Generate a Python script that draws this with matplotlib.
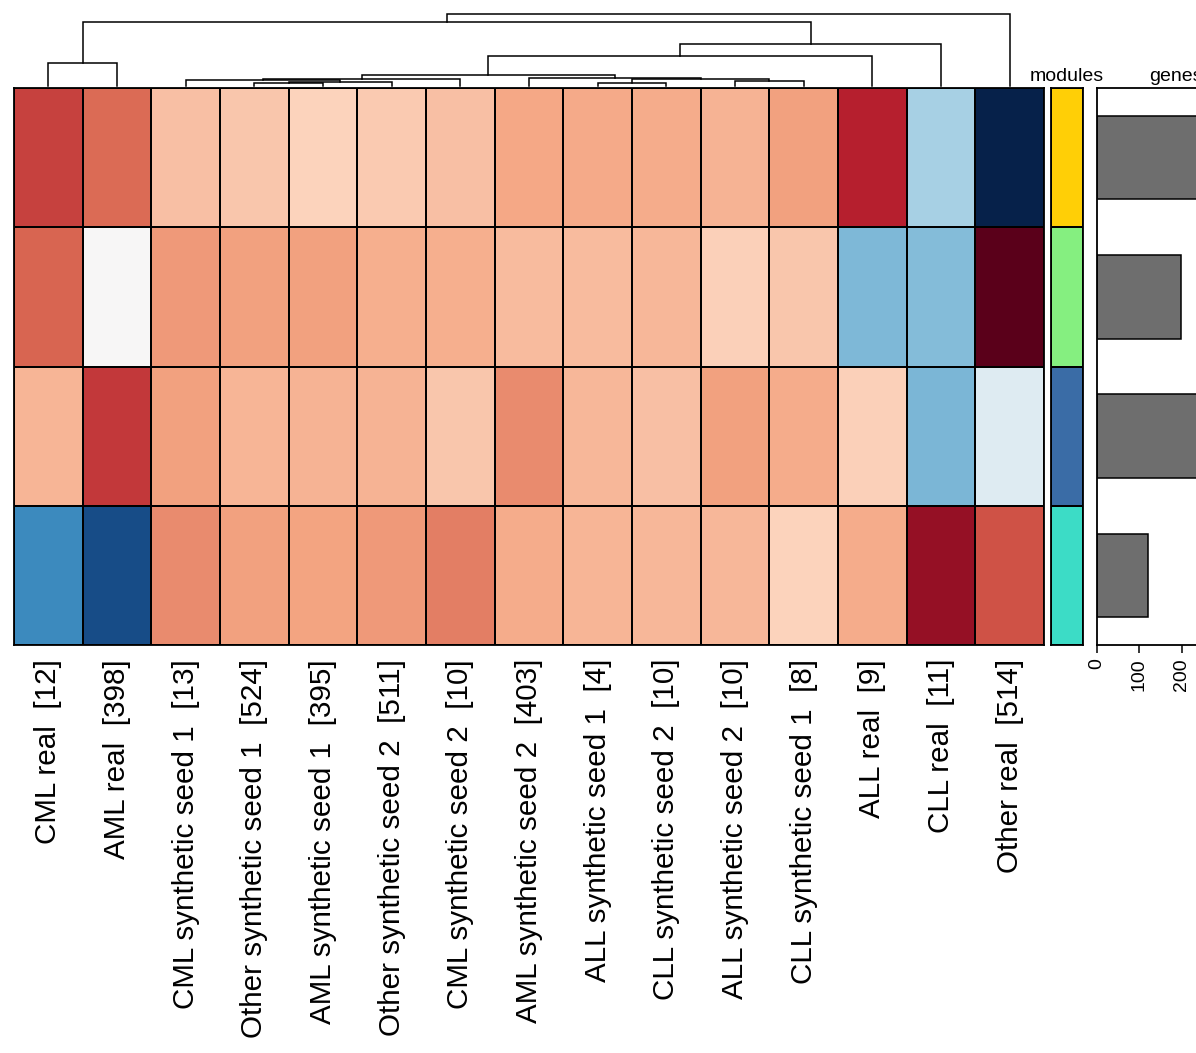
import matplotlib
matplotlib.use("Agg")
import matplotlib.pyplot as plt
from matplotlib.colors import LinearSegmentedColormap, ListedColormap
import numpy as np

plt.rcParams["font.family"] = ["Liberation Sans", "DejaVu Sans"]

# column (sample) names in dendrogram order, with sample counts
samples = [
    "CML real", "AML real", "CML synthetic seed 1", "Other synthetic seed 1",
    "AML synthetic seed 1", "Other synthetic seed 2", "CML synthetic seed 2",
    "AML synthetic seed 2", "ALL synthetic seed 1", "CLL synthetic seed 2",
    "ALL synthetic seed 2", "CLL synthetic seed 1", "ALL real", "CLL real",
    "Other real",
]
counts = [12, 398, 13, 524, 395, 511, 10, 403, 4, 10, 10, 8, 9, 11, 514]

# module eigengene scores, one row per module (top to bottom)
scores = np.array([
    [0.68, 0.57, 0.30, 0.28, 0.23, 0.26, 0.30, 0.39, 0.38, 0.37, 0.35, 0.41, 0.78, -0.33, -1.00],
    [0.58, 0.00, 0.43, 0.41, 0.41, 0.36, 0.36, 0.32, 0.32, 0.33, 0.24, 0.28, -0.45, -0.43, 1.00],
    [0.34, 0.71, 0.41, 0.34, 0.35, 0.35, 0.28, 0.47, 0.33, 0.30, 0.41, 0.37, 0.24, -0.46, -0.13],
    [-0.64, -0.87, 0.47, 0.41, 0.40, 0.43, 0.51, 0.37, 0.34, 0.33, 0.33, 0.23, 0.37, 0.86, 0.64],
])

module_colors = ["#ffcf06", "#85ef80", "#3a6ca6", "#3cdcc6"]
module_genes = [300, 198, 357, 121]

# hierarchical clustering merges: (left node, right node, height)
# leaves are 0..14 in display order, new nodes numbered from 15
merges = [
    (3, 4, 3.3), (15, 5, 3.7), (2, 16, 6.0), (17, 6, 6.7),
    (8, 9, 3.3), (10, 11, 5.3), (19, 20, 7.0), (7, 21, 8.0),
    (18, 22, 11.0), (23, 12, 30.0), (24, 13, 42.0), (0, 1, 23.0),
    (26, 25, 64.0), (27, 14, 72.0),
]

W, H = 1196, 1053


def px_axes(fig, x0, y0, x1, y1):
    # axes from pixel box (top-left origin)
    return fig.add_axes([x0 / W, 1 - y1 / H, (x1 - x0) / W, (y1 - y0) / H])


def main():
    fig = plt.figure(figsize=(W / 100, H / 100), dpi=100)

    cmap = LinearSegmentedColormap.from_list("rdbu", [
        "#06214a", "#2166ac", "#4393c3", "#92c5de", "#d1e5f0", "#f7f7f7",
        "#fddbc7", "#f4a582", "#d6604d", "#b2182b", "#5a001a",
    ])

    # heatmap
    ax = px_axes(fig, 14, 88, 1044, 645)
    n_rows, n_cols = scores.shape
    ax.pcolormesh(scores, cmap=cmap, vmin=-1, vmax=1, edgecolors="black", linewidth=1.1)
    ax.set_xlim(0, n_cols)
    ax.set_ylim(n_rows, 0)
    ax.set_yticks([])
    ax.set_xticks(np.arange(n_cols) + 0.5)
    ax.set_xticklabels([f"{s}  [{c}]" for s, c in zip(samples, counts)],
                       rotation=90, fontsize=21.3)
    ax.tick_params(axis="x", length=0, pad=10)
    for sp in ax.spines.values():
        sp.set_linewidth(1.3)

    # dendrogram
    dax = px_axes(fig, 14, 12, 1044, 86)
    dax.set_xlim(0, n_cols)
    dax.set_ylim(0, 74)
    dax.axis("off")
    xpos = {i: i + 0.5 for i in range(n_cols)}
    hgt = {i: 0.0 for i in range(n_cols)}
    for k, (a, b, h) in enumerate(merges):
        node = n_cols + k
        dax.plot([xpos[a], xpos[a], xpos[b], xpos[b]], [hgt[a], h, h, hgt[b]],
                 color="black", linewidth=1.1, clip_on=False, solid_joinstyle="miter")
        xpos[node] = (xpos[a] + xpos[b]) / 2
        hgt[node] = h

    # modules colour strip
    max_ = px_axes(fig, 1051, 88, 1083, 645)
    max_.pcolormesh(np.arange(n_rows).reshape(n_rows, 1), cmap=ListedColormap(module_colors),
                    edgecolors="black", linewidth=1.1)
    max_.set_ylim(n_rows, 0)
    max_.set_xticks([])
    max_.set_yticks([])
    max_.set_title("modules", fontsize=14, pad=5)
    for sp in max_.spines.values():
        sp.set_linewidth(1.3)

    # genes per module
    bax = px_axes(fig, 1097, 88, 1255, 645)
    bax.barh(np.arange(n_rows) + 0.5, module_genes, height=0.6, color="#6e6e6e",
             edgecolor="black", linewidth=1.1)
    bax.set_ylim(n_rows, 0)
    bax.set_xlim(0, 372)
    bax.set_yticks([])
    bax.set_xticks([0, 100, 200])
    bax.tick_params(axis="x", labelrotation=90, labelsize=14, length=5.5, width=1.1, pad=4)
    bax.set_title("genes", fontsize=14, pad=5)
    for sp in bax.spines.values():
        sp.set_linewidth(1.3)

    fig.savefig("out.png", dpi=100)


if __name__ == "__main__":
    main()
